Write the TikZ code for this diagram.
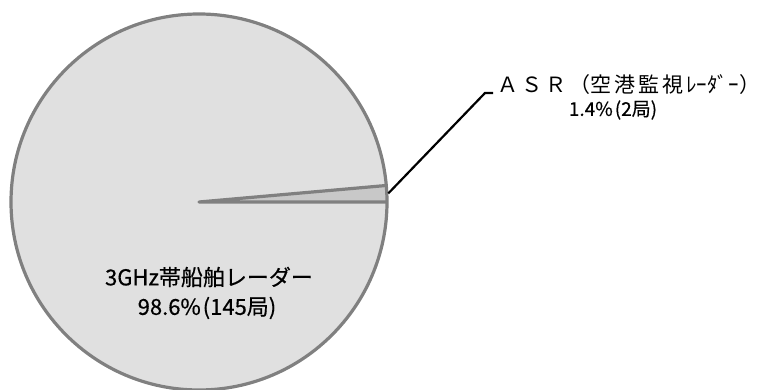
\documentclass[tikz,border=0pt]{standalone}
\usepackage{fontspec}
\setmainfont{Noto Sans CJK JP}
\newfontfamily\jp[FakeBold=0.5]{Noto Sans CJK JP}
\newfontfamily\jpthin{Noto Sans CJK JP}
\definecolor{piefill}{RGB}{224,224,224}
\definecolor{slicefill}{RGB}{200,200,200}
\definecolor{pieedge}{RGB}{128,128,128}
\tikzset{
  pieline/.style={draw=pieedge, line width=3.2pt, line join=round},
  lbl/.style={inner sep=0pt, text=black},
  leader/.style={draw=black, line width=2.2pt},
}
\begin{document}
\begin{tikzpicture}[x=1pt,y=1pt]
\useasboundingbox (0,0) rectangle (762,390);
\coordinate (c) at (199,188);
% main pie
\fill[piefill] (c) circle (188);
\fill[slicefill] (c) -- ([shift={(0:188)}]c) arc (0:5.04:188) -- cycle;
\draw[pieline] (c) circle (188);
\draw[pieline] ([shift={(5.04:188)}]c) -- (c) -- ([shift={(0:188)}]c);
% labels
\node[lbl, font=\jp\fontsize{22}{26}\selectfont] (m1) at (209,113) {3GHz帯船舶レーダー};
\node[lbl, font=\jp\fontsize{22}{26}\selectfont] (m2) at (207,82) {98.6\%\hspace{2pt}(145局)};
\node[lbl, font=\jpthin\fontsize{21}{25}\selectfont, anchor=east] (a1) at (761,305) {Ａ\hspace{3pt}Ｓ\hspace{3pt}Ｒ\hspace{3pt}（\hspace{0pt}空\hspace{3pt}港\hspace{3pt}監\hspace{3pt}視\hspace{3pt}ﾚｰﾀﾞｰ\hspace{1pt}）};
\node[lbl, font=\jp\fontsize{19}{23}\selectfont] (a2) at (613,280) {1.4\%\hspace{2pt}(2局)};
% leader
\coordinate (p0) at ([shift={(2.6:189.5)}]c);
\coordinate (p1) at (485,297);
\coordinate (p2) at (493,297);
\draw[leader] (p0) -- (p1) -- (p2);
\end{tikzpicture}
\end{document}
